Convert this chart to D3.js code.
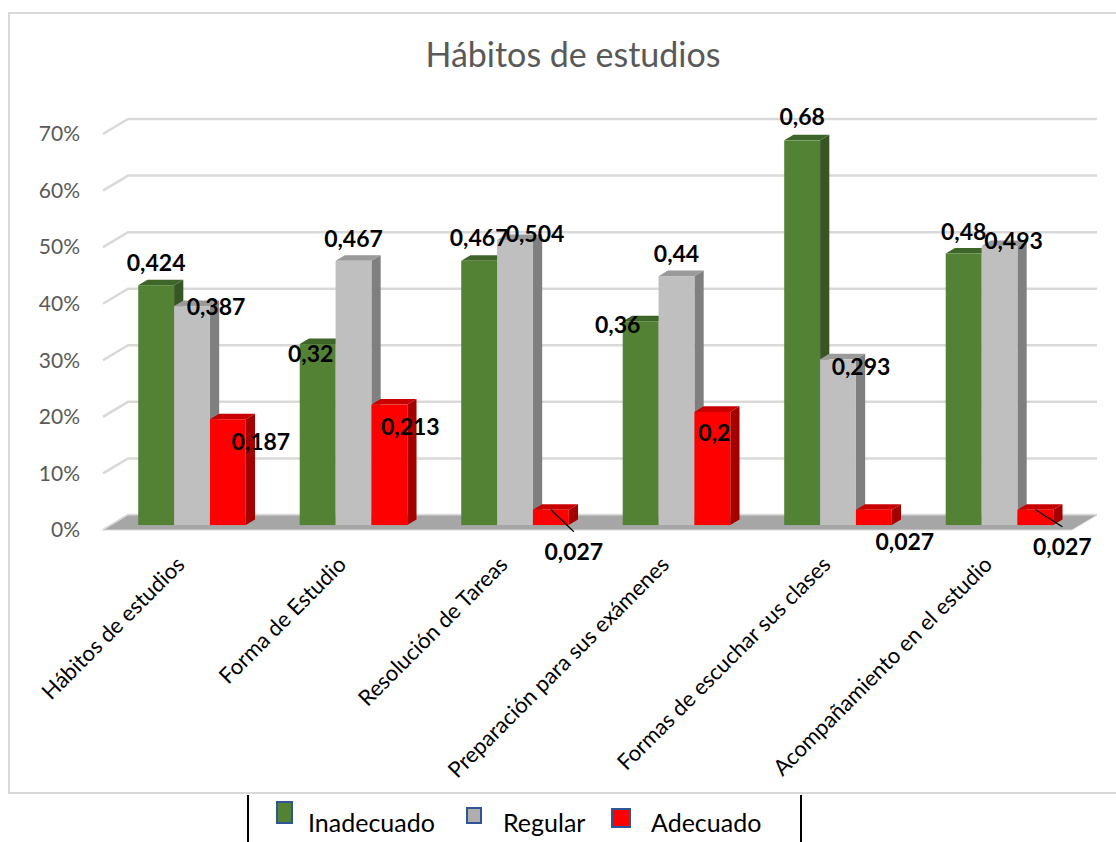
<!DOCTYPE html>
<html>
<head>
<meta charset="utf-8">
<script src="https://cdn.jsdelivr.net/npm/d3@7"></script>
<style>
  body { margin: 0; background: #fff; }
  svg text { font-family: Lato, "Open Sans", sans-serif; }
</style>
</head>
<body>
<div id="chart"></div>
<script>
// data
const categories = [
  "Hábitos de estudios",
  "Forma de Estudio",
  "Resolución de Tareas",
  "Preparación para sus exámenes",
  "Formas de escuchar sus clases",
  "Acompañamiento en el estudio",
];
const seriesNames = ["Inadecuado", "Regular", "Adecuado"];
const inadecuado = [0.424, 0.32, 0.467, 0.36, 0.68, 0.48];
const regular = [0.387, 0.467, 0.504, 0.44, 0.293, 0.493];
const adecuado = [0.187, 0.213, 0.027, 0.2, 0.027, 0.027];
const yTicks = [0, 0.1, 0.2, 0.3, 0.4, 0.5, 0.6, 0.7];

// label nudges (dx, dy from the top centre of the bar) and leader lines, as placed in the original
const labelNudge = [
  [[0, -22], [24, 1], [33, 23]],
  [[-7, 10], [0, -22], [21, 22]],
  [[0, -23], [20, -6], [23, 42]],
  [[-23, 4], [0, -22], [2, 21]],
  [[0, -23], [23, 8], [31, 32]],
  [[0, -22], [14, -5], [27, 37]],
];
const leaders = [[2, 2], [5, 2]]; // [category, series]

const values = [inadecuado, regular, adecuado];
const faces = {
  Inadecuado: { front: "#548235", side: "#375623", top: "#3e6629" },
  Regular: { front: "#bfbfbf", side: "#7f7f7f", top: "#9a9a9a" },
  Adecuado: { front: "#ff0000", side: "#a50000", top: "#c80000" },
};

const W = 1116, H = 842;
const svg = d3.select("#chart").append("svg").attr("width", W).attr("height", H);

// outer chart frame
svg.append("rect")
  .attr("x", 9).attr("y", 13)
  .attr("width", W + 10).attr("height", 780)
  .attr("fill", "#fff")
  .attr("stroke", "#d9d9d9")
  .attr("stroke-width", 2);

// scales (front plane of the 3d box)
var x0 = d3.scaleBand().domain(categories).range([103, 1072]).paddingInner(0.334).paddingOuter(0.167);
var x1 = d3.scaleBand().domain(seriesNames).range([0, x0.bandwidth()]);
var y = d3.scaleLinear().domain([0, 0.7]).range([530, 134]);

// oblique depth: z from 0 (front) to 1 (back wall)
const DX = 25, DY = -15;
const proj = (px, py, z) => [px + DX * z, py + DY * z];
const zFront = 0.33, zBack = 0.7;

const [xL, xR] = x0.range();

// gridlines on side wall + back wall
svg.append("g")
  .selectAll("path")
  .data(yTicks)
  .join("path")
  .attr("fill", "none")
  .attr("stroke", "#d9d9d9")
  .attr("stroke-width", 2.5)
  .attr("d", (t) => {
    const a = [xL, y(t)], b = proj(xL, y(t), 1), c = proj(xR, y(t), 1);
    return "M" + a + "L" + b + "L" + c;
  });

// floor
svg.append("path")
  .attr("fill", "#a6a6a6")
  .attr("stroke", "#d9d9d9")
  .attr("stroke-width", 1)
  .attr("d", "M" + [xL, y(0)] + "L" + [xR, y(0)] + "L" + proj(xR, y(0), 1) + "L" + proj(xL, y(0), 1) + "Z");

// y axis labels
svg.append("g")
  .selectAll("text")
  .data(yTicks)
  .join("text")
  .attr("x", 80)
  .attr("y", (t) => y(t))
  .attr("dy", "0.35em")
  .attr("text-anchor", "end")
  .attr("fill", "#595959")
  .style("font-size", "21px")
  .text(d3.format(".0%"));

// bars
const bars = [];
categories.forEach((c, i) => {
  seriesNames.forEach((s, j) => {
    bars.push({ c, i, s, j, v: values[j][i] });
  });
});

const barG = svg.append("g");
bars.forEach((d) => {
  const bx = x0(d.c) + x1(d.s);
  const bw = x1.bandwidth();
  const [fx, fy0] = proj(bx, y(0), zFront);
  const [, fy1] = proj(bx, y(d.v), zFront);
  const dd = zBack - zFront;
  const ox = DX * dd, oy = DY * dd;
  const col = faces[d.s];
  // side face
  barG.append("path")
    .attr("fill", col.side)
    .attr("d", "M" + [fx + bw, fy1] + "L" + [fx + bw + ox, fy1 + oy] + "L" + [fx + bw + ox, fy0 + oy] + "L" + [fx + bw, fy0] + "Z");
  // top face
  barG.append("path")
    .attr("fill", col.top)
    .attr("d", "M" + [fx, fy1] + "L" + [fx + ox, fy1 + oy] + "L" + [fx + bw + ox, fy1 + oy] + "L" + [fx + bw, fy1] + "Z");
  // front face
  barG.append("rect")
    .attr("x", fx).attr("y", fy1)
    .attr("width", bw).attr("height", fy0 - fy1)
    .attr("fill", col.front);
  d.cx = fx + bw / 2;
  d.top = fy1;
});

// leader lines
leaders.forEach(([i, j]) => {
  const d = bars.find((b) => b.i === i && b.j === j);
  const n = labelNudge[i][j];
  svg.append("line")
    .attr("x1", d.cx).attr("y1", d.top)
    .attr("x2", d.cx + n[0]).attr("y2", d.top + n[1] - 20)
    .attr("stroke", "#000")
    .attr("stroke-width", 1.2);
});

// data labels
svg.append("g")
  .selectAll("text")
  .data(bars)
  .join("text")
  .attr("x", (d) => d.cx + labelNudge[d.i][d.j][0])
  .attr("y", (d) => d.top + labelNudge[d.i][d.j][1])
  .attr("dy", "0.35em")
  .attr("text-anchor", "middle")
  .style("font-size", "23px")
  .style("font-weight", "bold")
  .text((d) => String(d.v).replace(".", ","));

// category labels, rotated
svg.append("g")
  .selectAll("text")
  .data(categories)
  .join("text")
  .attr("transform", (c) => {
    const cx = x0(c) + x0.bandwidth() / 2 + DX * zFront - 6;
    return "translate(" + cx + ",566) rotate(-45)";
  })
  .attr("text-anchor", "end")
  .attr("fill", "#000")
  .style("font-size", "22px")
  .text((c) => c);

// title
svg.append("text")
  .attr("x", 573)
  .attr("y", 67)
  .attr("text-anchor", "middle")
  .attr("fill", "#595959")
  .style("font-size", "34px")
  .text("Hábitos de estudios");

// legend
svg.append("line").attr("x1", 248).attr("x2", 248).attr("y1", 795).attr("y2", H).attr("stroke", "#000").attr("stroke-width", 2);
svg.append("line").attr("x1", 801).attr("x2", 801).attr("y1", 795).attr("y2", H).attr("stroke", "#000").attr("stroke-width", 2);

const legendKeys = [
  { x: 277, y: 802, w: 15, h: 21, tx: 308, fill: "#548235" },
  { x: 467, y: 808, w: 14, h: 15, tx: 503, fill: "#b0adad" },
  { x: 612, y: 809, w: 18, h: 18, tx: 651, fill: "#ff0000" },
];
const lg = svg.append("g");
seriesNames.forEach((s, k) => {
  const kk = legendKeys[k];
  lg.append("rect")
    .attr("x", kk.x).attr("y", kk.y)
    .attr("width", kk.w).attr("height", kk.h)
    .attr("fill", kk.fill)
    .attr("stroke", "#2f5597")
    .attr("stroke-width", 2);
  lg.append("text")
    .attr("x", kk.tx).attr("y", 832)
    .attr("fill", "#000")
    .style("font-size", "25px")
    .text(s);
});
</script>
</body>
</html>
